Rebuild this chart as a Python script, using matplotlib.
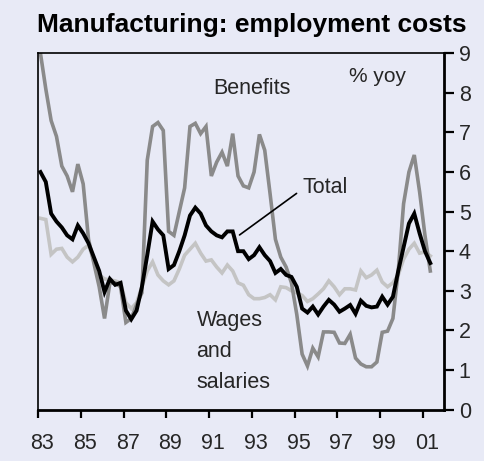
import numpy as np
import matplotlib
matplotlib.use("Agg")
import matplotlib.pyplot as plt
import matplotlib.transforms as mtransforms

plt.rcParams['font.family'] = ['Liberation Sans', 'DejaVu Sans']

# quarterly, % yoy, 1983Q1 - 2001Q2
benefits = [9.0, 8.1, 7.3, 6.9, 6.15, 5.9, 5.5, 6.2, 5.7, 4.3,
            3.7, 3.1, 2.3, 3.2, 3.2, 3.1, 2.2, 2.3, 2.65, 2.95,
            6.3, 7.15, 7.25, 7.05, 4.5, 4.4, 5.0, 5.6, 7.15, 7.23,
            6.97, 7.15, 5.9, 6.25, 6.5, 6.15, 6.97, 5.9, 5.65, 5.6,
            6.0, 6.95, 6.55, 5.45, 4.3, 3.85, 3.6, 3.2, 2.4, 1.4,
            1.1, 1.55, 1.33, 1.96, 1.96, 1.95, 1.68, 1.67, 1.9, 1.3,
            1.15, 1.08, 1.08, 1.2, 1.95, 1.98, 2.3, 3.5, 5.2, 6.0,
            6.43, 5.5, 4.4, 3.5]
total = [6.0, 5.75, 4.95, 4.75, 4.6, 4.4, 4.3, 4.65, 4.45, 4.2,
         3.85, 3.5, 2.97, 3.3, 3.15, 3.2, 2.5, 2.28, 2.5, 3.1,
         3.9, 4.75, 4.55, 4.4, 3.55, 3.65, 4.0, 4.4, 4.9, 5.1,
         4.95, 4.65, 4.5, 4.4, 4.35, 4.5, 4.5, 4.0, 4.0, 3.8,
         3.9, 4.1, 3.9, 3.75, 3.45, 3.55, 3.4, 3.35, 3.1, 2.55,
         2.45, 2.6, 2.4, 2.6, 2.77, 2.65, 2.47, 2.55, 2.64, 2.42,
         2.75, 2.62, 2.58, 2.6, 2.85, 2.65, 2.85, 3.5, 4.1, 4.7,
         4.95, 4.45, 4.0, 3.7]
wages = [4.83, 4.8, 3.92, 4.05, 4.07, 3.85, 3.73, 3.85, 4.05, 4.15,
         3.78, 3.4, 3.3, 3.27, 3.25, 3.2, 2.7, 2.55, 2.7, 3.1,
         3.5, 3.73, 3.4, 3.25, 3.15, 3.25, 3.55, 3.9, 4.05, 4.2,
         3.95, 3.75, 3.78, 3.6, 3.45, 3.65, 3.5, 3.2, 3.14, 2.9,
         2.8, 2.8, 2.83, 2.9, 2.77, 3.1, 3.08, 3.0, 2.95, 2.88,
         2.73, 2.8, 2.92, 3.05, 3.25, 3.1, 2.9, 3.05, 3.05, 3.02,
         3.5, 3.33, 3.4, 3.52, 3.22, 3.1, 3.2, 3.4, 3.8, 4.05,
         4.2, 3.95, 3.98, 3.88]
start_year = 1983
tick_years = [1983, 1985, 1987, 1989, 1991, 1993, 1995, 1997, 1999, 2001]
tick_labels = ['83', '85', '87', '89', '91', '93', '95', '97', '99', '01']

t = start_year + 0.1 + np.arange(len(total)) / 4.0

bg = '#e8eaf6'
txt = '#262626'
fig = plt.figure(figsize=(4.85, 4.61), dpi=100, facecolor=bg)
ax = fig.add_axes([0.079, 0.1117, 0.8355, 0.7727], facecolor=bg)

ax.plot(t, wages, color='#c4c4c4', lw=2.6, solid_joinstyle='miter')
ax.plot(t, benefits, color='#8a8a8a', lw=2.6, solid_joinstyle='miter')
ax.plot(t, total, color='black', lw=2.8, solid_joinstyle='miter')

ax.set_xlim(1983, 2001.97)
ax.set_ylim(0, 9)
ax.yaxis.tick_right()
ax.set_yticks(range(10))
ax.set_xticks(tick_years)
ax.set_xticklabels(tick_labels)
ax.tick_params(axis='both', labelsize=15.5, color='black', width=1.6,
               length=6, direction='out', pad=11, labelcolor=txt)
ax.tick_params(axis='y', pad=4, length=7)
off = mtransforms.ScaledTranslation(4 / 100, 0, fig.dpi_scale_trans)
for lab in ax.get_xticklabels():
    lab.set_transform(lab.get_transform() + off)

for s in ['left', 'top']:
    ax.spines[s].set_linewidth(1.2)
for s in ['right', 'bottom']:
    ax.spines[s].set_linewidth(2.0)

fs = 15.5
ax.text(1993.0, 8.12, 'Benefits', fontsize=fs, ha='center', va='center',
        color=txt)
ax.text(1998.9, 8.42, '% yoy', fontsize=15, ha='center', va='center',
        color=txt)
ax.text(1995.35, 5.6, 'Total', fontsize=fs, ha='left', va='center',
        color=txt)
ax.annotate('', xy=(1992.42, 4.41), xytext=(1995.09, 5.46),
            arrowprops=dict(arrowstyle='-', color='black', lw=1.2,
                            shrinkA=0, shrinkB=0))
ax.text(1990.41, 2.52, 'Wages\nand\nsalaries', fontsize=fs, ha='left',
        va='top', linespacing=1.62, color=txt)

fig.text(0.076, 0.972, 'Manufacturing: employment costs', fontsize=19,
         fontweight='bold', ha='left', va='top')

fig.savefig('out.png', dpi=100, facecolor=bg)
